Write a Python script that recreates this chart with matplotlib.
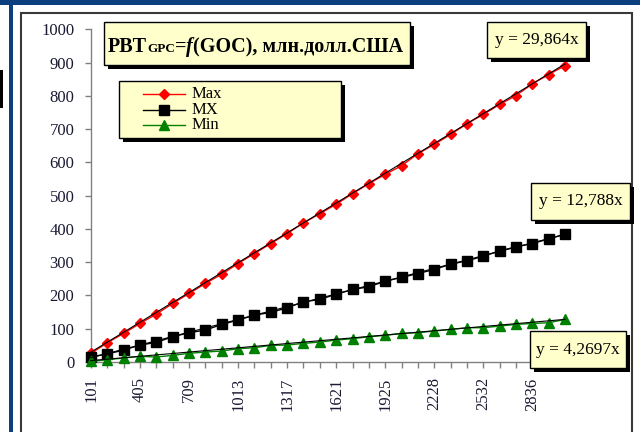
import matplotlib
matplotlib.use('Agg')
import matplotlib.pyplot as plt
from matplotlib.patches import Rectangle
from matplotlib.lines import Line2D

plt.rcParams['font.family'] = ['Liberation Serif', 'DejaVu Serif']

# ---------------- data ----------------
cat_labels = ['101', '203', '304', '405', '507', '608', '709', '811', '912', '1013',
              '1115', '1216', '1317', '1419', '1520', '1621', '1723', '1824', '1925', '2026',
              '2127', '2228', '2330', '2431', '2532', '2634', '2735', '2836', '2938', '3039']
max_vals = [26, 58, 86, 116, 144, 176, 206, 236, 264, 296, 326, 356, 386, 418, 446,
            474, 506, 536, 564, 590, 626, 654, 684, 716, 744, 774, 801, 836, 864, 891]
mx_vals = [16, 24, 36, 51, 59, 76, 88, 96, 113, 126, 141, 149, 163, 181, 188,
           204, 218, 226, 243, 254, 266, 278, 294, 304, 318, 334, 346, 356, 370, 384]
min_vals = [2, 7, 12, 17, 15, 20, 26, 30, 33, 40, 43, 50, 51, 56, 60,
            66, 70, 76, 80, 86, 88, 93, 98, 103, 103, 108, 113, 116, 118, 128]
series_names = ['Max', 'MX', 'Min']
trend_slopes = [29.864, 12.788, 4.2697]
trend_labels = ['y = 29,864x', 'y = 12,788x', 'y = 4,2697x']
y_ticks = [0, 100, 200, 300, 400, 500, 600, 700, 800, 900, 1000]
title_pieces = ['PBT', 'GPC', '=', 'f', '(GOC), млн.долл.США']

# ---------------- layout helpers ----------------
W, H = 640, 432
fig = plt.figure(figsize=(6.4, 4.32), dpi=100)
fig.patch.set_facecolor('white')
SERIF = 'Liberation Serif'
TXT = '#1a1a33'


def fx(x):
    return x / W


def fy(y):
    return 1 - y / H


def rect(x0, y0, x1, y1, **kw):
    r = Rectangle((fx(x0), fy(y1)), (x1 - x0) / W, (y1 - y0) / H,
                  transform=fig.transFigure, **kw)
    fig.add_artist(r)
    return r


def box(x0, y0, x1, y1, sh=4, z=5):
    rect(x0 + sh, y0 + sh, x1 + sh, y1 + sh, facecolor='black', edgecolor='none', zorder=z)
    rect(x0, y0, x1, y1, facecolor='#FFFFCC', edgecolor='black', lw=1.0, zorder=z + 0.1)


# ---------------- frame decorations ----------------
BLUE = '#0B3F7E'
rect(0, 0, 640, 4.5, facecolor=BLUE, edgecolor='none', zorder=0.5)
rect(8.5, 0, 13, 440, facecolor=BLUE, edgecolor='none', zorder=0.5)
rect(0, 70, 2.5, 108, facecolor='black', edgecolor='none', zorder=0.5)
rect(20.5, 13, 632, 445, facecolor='none', edgecolor='#3a3a3a', lw=1.5, zorder=0.6)

# ---------------- axes ----------------
ax = fig.add_axes([fx(91), fy(362), (565 - 91) / W, (362 - 29.3) / H])
ax.patch.set_alpha(0)
k = list(range(1, len(cat_labels) + 1))

colors = ['#FF0000', '#000000', '#008000']
markers = ['D', 's', '^']
msizes = [5.6, 6.6, 7.5]
all_vals = [max_vals, mx_vals, min_vals]
for vals, c, m, ms in zip(all_vals, colors, markers, msizes):
    ax.plot(k, vals, color=c, lw=1.0, marker=m, ms=ms, mfc=c, mec=c, zorder=3, clip_on=False)
for s in trend_slopes:
    ax.plot(k, [s * i for i in k], color='black', lw=0.8, zorder=4, clip_on=False)

ax.set_xlim(1, len(k))
ax.set_ylim(0, 1000)
ax.set_yticks(y_ticks)
ax.set_yticklabels([str(v) for v in y_ticks])
ax.set_xticks(k)
ax.set_xticklabels([lab if (i % 3 == 0) else '' for i, lab in enumerate(cat_labels)],
                   rotation=90)
for sp in ['top', 'right']:
    ax.spines[sp].set_visible(False)
for sp in ['left', 'bottom']:
    ax.spines[sp].set_color('#808080')
    ax.spines[sp].set_linewidth(1.0)
ax.tick_params(axis='y', direction='out', length=4, width=1, color='#808080', pad=8,
               labelsize=12, labelcolor=TXT)
ax.tick_params(axis='x', direction='out', length=4, width=1, color='#808080', pad=7,
               labelsize=12, labelcolor=TXT)

# ---------------- title box ----------------
box(104, 22, 410, 65)
renderer = fig.canvas.get_renderer()
x = 108
styles = [(14.5, 'normal'), (9.5, 'normal'), (14.5, 'normal'), (14.5, 'italic'), (14.5, 'normal')]
for s, (fs, st) in zip(title_pieces, styles):
    t = fig.text(fx(x), fy(52), s, fontsize=fs, fontweight='bold', style=st,
                 family=SERIF, va='baseline', ha='left', color='black', zorder=7)
    x += t.get_window_extent(renderer).width

# ---------------- legend ----------------
box(119, 81, 341, 138, sh=4)
rows = [94, 110, 125]
for name, c, m, ms, yy in zip(series_names, colors, markers, msizes, rows):
    fig.add_artist(Line2D([fx(143), fx(185)], [fy(yy), fy(yy)], transform=fig.transFigure,
                          color=c, lw=1.0, zorder=7))
    fig.add_artist(Line2D([fx(164)], [fy(yy)], transform=fig.transFigure, color=c,
                          marker=m, ms=ms, mfc=c, mec=c, lw=0, zorder=7.1))
    fig.text(fx(192), fy(yy), name, fontsize=12, family=SERIF, va='center', ha='left',
             color='black', zorder=7)

# ---------------- trend equation boxes ----------------
eq_boxes = [(487, 22, 586, 58), (531, 183, 630, 220), (530, 331, 626, 368)]
for lab, (x0, y0, x1, y1) in zip(trend_labels, eq_boxes):
    box(x0, y0, x1, y1, sh=4)
    fig.text(fx((x0 + x1) / 2), fy((y0 + y1) / 2), lab, fontsize=12.5, family=SERIF,
             va='center', ha='center', color='black', zorder=7)

fig.savefig('out.png', dpi=100)
